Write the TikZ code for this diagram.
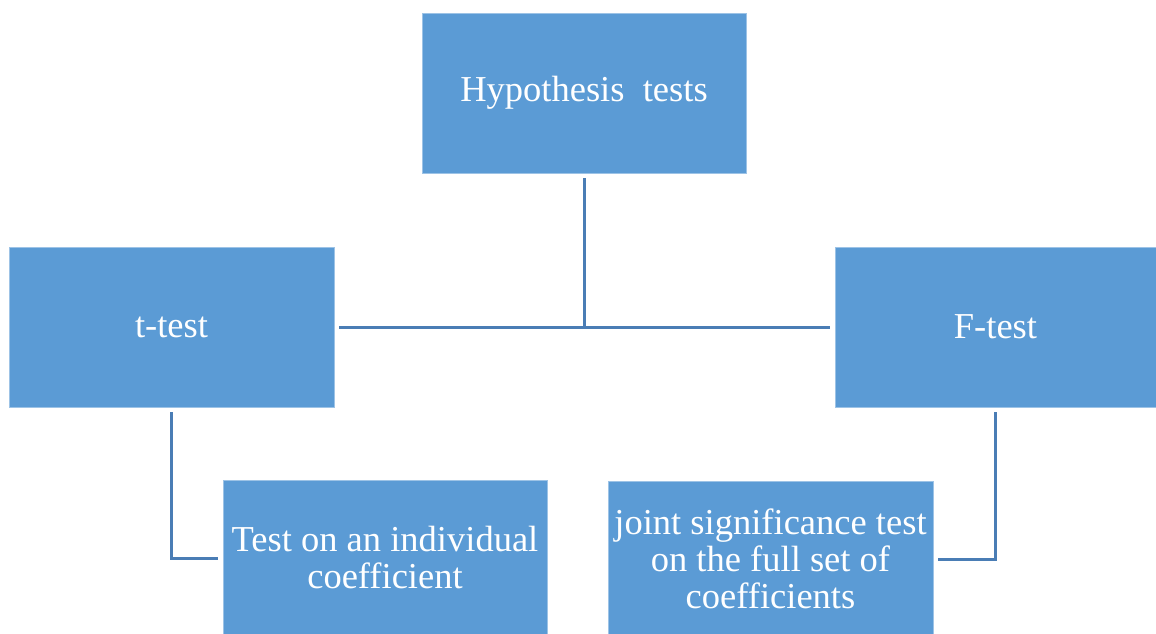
\documentclass[tikz,border=0pt]{standalone}
\usepackage{fontspec}
\setmainfont{Liberation Serif}
\definecolor{boxblue}{HTML}{5B9BD5}
\definecolor{linkblue}{HTML}{4A7DB5}
\begin{document}
\begin{tikzpicture}[x=1pt,y=-1pt,
  blockbox/.style={fill=boxblue, draw=boxblue!60!white, line width=0.6pt, inner sep=0pt,
    align=center, text=white, font=\fontsize{36.5}{37}\selectfont},
  link/.style={draw=linkblue, line width=3pt, shorten <=5pt, shorten >=5pt}]
  \path[use as bounding box, fill=white] (0,0) rectangle (1156,634);

  \node[blockbox, minimum width=324pt, minimum height=160pt] (hyp) at (584,93) {Hypothesis\ \ tests};
  \node[blockbox, minimum width=325pt, minimum height=160pt] (tt) at (171.5,327) {t-test};
  \node[blockbox, minimum width=321pt, minimum height=160pt] (ft) at (995.5,327) {F-test};
  \node[blockbox, minimum width=324pt, minimum height=156pt] (ind) at (385,558) {Test on an individual\\coefficient};
  \node[blockbox, minimum width=325pt, minimum height=156pt] (joint) at (770.5,559) {joint significance test\\on the full set of\\coefficients};

  \coordinate (hub) at (hyp.south |- tt.east);
  \draw[link] (tt) -- (ft);
  \draw[link, shorten >=0pt] (hyp) -- (hub);
  \draw[link] (tt.south) |- (ind.west);
  \draw[link] (ft.south) |- (joint.east);
\end{tikzpicture}
\end{document}
